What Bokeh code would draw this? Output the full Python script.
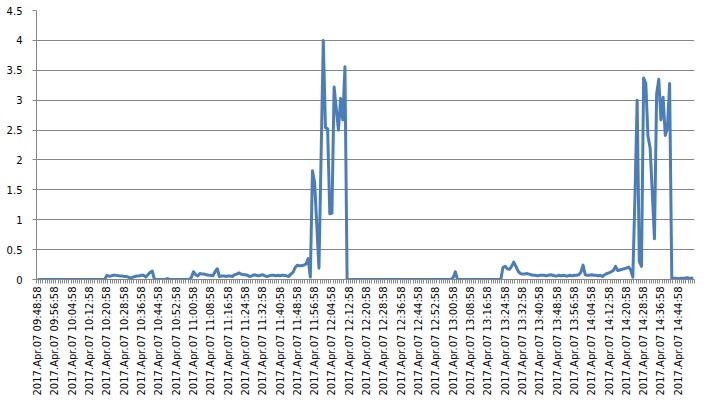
from bokeh.plotting import figure
from bokeh.models import FixedTicker, Range1d
from bokeh.embed import file_html
from bokeh.resources import INLINE
import math

# one reading per minute, starting 2017.Apr.07 09:48:58
values = [
    0, 0, 0, 0, 0, 0, 0, 0, 0, 0, 0, 0, 0, 0, 0, 0,
    0, 0, 0, 0, 0, 0, 0, 0, 0, 0, 0, 0, 0, 0, 0, 0,
    0.07, 0.055, 0.06, 0.07, 0.07, 0.065, 0.06, 0.06, 0.05, 0.05, 0.04, 0.02, 0.04, 0.05, 0.06, 0.06,
    0.07, 0.07, 0.04, 0.08, 0.12, 0.14, 0, 0, 0, 0, 0, 0, 0.015, 0, 0, 0,
    0, 0, 0, 0, 0, 0, 0, 0.03, 0.13, 0.08, 0.06, 0.1, 0.09, 0.09, 0.08, 0.07,
    0.07, 0.06, 0.13, 0.18, 0.05, 0.06, 0.06, 0.05, 0.06, 0.06, 0.05, 0.08, 0.09, 0.11, 0.09, 0.08,
    0.08, 0.07, 0.05, 0.06, 0.08, 0.07, 0.06, 0.07, 0.08, 0.06, 0.05, 0.06, 0.07, 0.07, 0.06, 0.07,
    0.06, 0.07, 0.07, 0.06, 0.05, 0.09, 0.12, 0.2, 0.24, 0.23, 0.23, 0.24, 0.26, 0.35, 0.04, 1.82,
    1.62, 0.9, 0.19, 2.1, 4.0, 2.54, 2.52, 1.1, 1.11, 3.22, 2.85, 2.5, 3.03, 2.67, 3.56, 0,
    0, 0, 0, 0, 0, 0, 0, 0, 0, 0, 0, 0, 0, 0, 0, 0,
    0, 0, 0, 0, 0, 0, 0, 0, 0, 0, 0, 0, 0, 0, 0, 0,
    0, 0, 0, 0, 0, 0, 0, 0, 0, 0, 0, 0, 0, 0, 0, 0,
    0.03, 0.13, 0, 0, 0, 0, 0, 0, 0, 0, 0, 0, 0, 0, 0, 0,
    0, 0, 0, 0, 0, 0, 0, 0.2, 0.22, 0.18, 0.17, 0.22, 0.29, 0.22, 0.14, 0.1,
    0.09, 0.09, 0.1, 0.09, 0.08, 0.07, 0.07, 0.06, 0.07, 0.07, 0.07, 0.06, 0.07, 0.08, 0.07, 0.06,
    0.06, 0.07, 0.06, 0.07, 0.06, 0.06, 0.07, 0.06, 0.07, 0.07, 0.08, 0.12, 0.24, 0.08, 0.07, 0.07,
    0.08, 0.07, 0.07, 0.06, 0.07, 0.05, 0.08, 0.1, 0.11, 0.13, 0.15, 0.22, 0.15, 0.16, 0.17, 0.18,
    0.19, 0.21, 0.16, 0.04, 1.4, 3.0, 0.3, 0.22, 3.37, 3.28, 2.4, 2.2, 1.45, 0.68, 3.1, 3.35,
    2.67, 3.05, 2.41, 2.54, 3.28, 0.02, 0.02, 0.02, 0.01, 0.02, 0.02, 0.02, 0.03, 0.02, 0.02, 0.02,
]

# category positions of the labelled ticks (every 8th minute) and their labels
x_label_pos = [0, 8, 16, 24, 32, 40, 48, 56, 64, 72, 80, 88, 96, 104, 112, 120, 128, 136, 144,
               152, 160, 168, 176, 184, 192, 200, 208, 216, 224, 232, 240, 248, 256, 264, 272,
               280, 288, 296]
x_labels = [
    "2017.Apr.07 09:48:58", "2017.Apr.07 09:56:58", "2017.Apr.07 10:04:58", "2017.Apr.07 10:12:58",
    "2017.Apr.07 10:20:58", "2017.Apr.07 10:28:58", "2017.Apr.07 10:36:58", "2017.Apr.07 10:44:58",
    "2017.Apr.07 10:52:58", "2017.Apr.07 11:00:58", "2017.Apr.07 11:08:58", "2017.Apr.07 11:16:58",
    "2017.Apr.07 11:24:58", "2017.Apr.07 11:32:58", "2017.Apr.07 11:40:58", "2017.Apr.07 11:48:58",
    "2017.Apr.07 11:56:58", "2017.Apr.07 12:04:58", "2017.Apr.07 12:12:58", "2017.Apr.07 12:20:58",
    "2017.Apr.07 12:28:58", "2017.Apr.07 12:36:58", "2017.Apr.07 12:44:58", "2017.Apr.07 12:52:58",
    "2017.Apr.07 13:00:58", "2017.Apr.07 13:08:58", "2017.Apr.07 13:16:58", "2017.Apr.07 13:24:58",
    "2017.Apr.07 13:32:58", "2017.Apr.07 13:40:58", "2017.Apr.07 13:48:58", "2017.Apr.07 13:56:58",
    "2017.Apr.07 14:04:58", "2017.Apr.07 14:12:58", "2017.Apr.07 14:20:58", "2017.Apr.07 14:28:58",
    "2017.Apr.07 14:36:58", "2017.Apr.07 14:44:58",
]

y_ticks = [0, 0.5, 1, 1.5, 2, 2.5, 3, 3.5, 4, 4.5]
y_labels = ["0", "0.5", "1", "1.5", "2", "2.5", "3", "3.5", "4", "4.5"]

n = len(values)
xs = list(range(n))

GRID = "#868686"
LINE = "#4A7EBB"

p = figure(width=699, height=398, output_backend="svg", toolbar_location=None,
           x_range=Range1d(-0.5, n - 0.5), y_range=Range1d(0, 4.5),
           min_border_left=36, min_border_right=5, min_border_top=10, min_border_bottom=117)
p.outline_line_color = None
p.background_fill_color = "white"
p.border_fill_color = "white"

p.line(xs, values, line_color=LINE, line_width=3, line_join="round")

# x axis
xa = p.xaxis[0]
xa.ticker = FixedTicker(ticks=x_label_pos, minor_ticks=[i - 0.5 for i in range(n + 1)])
xa.major_label_overrides = {pos: lab for pos, lab in zip(x_label_pos, x_labels)}
xa.major_label_orientation = math.pi / 2
xa.major_label_text_font = "DejaVu Sans"
xa.major_label_text_font_size = "10px"
xa.major_label_text_color = "black"
xa.major_label_standoff = 3
xa.major_tick_in = 0
xa.major_tick_out = 0
xa.minor_tick_in = 0
xa.minor_tick_out = 4
xa.minor_tick_line_color = GRID
xa.axis_line_color = GRID

# y axis
ya = p.yaxis[0]
ya.ticker = FixedTicker(ticks=y_ticks, minor_ticks=[])
ya.major_label_overrides = {t: lab for t, lab in zip(y_ticks, y_labels)}
ya.major_label_text_font = "DejaVu Sans"
ya.major_label_text_font_size = "10px"
ya.major_label_text_color = "black"
ya.major_label_standoff = 10
ya.major_tick_in = 0
ya.major_tick_out = 4
ya.major_tick_line_color = GRID
ya.axis_line_color = GRID
ya.minor_tick_line_color = None

p.xgrid.grid_line_color = None
p.ygrid.grid_line_color = GRID
p.ygrid.grid_line_width = 1

open("out.html", "w").write(file_html(p, INLINE))
